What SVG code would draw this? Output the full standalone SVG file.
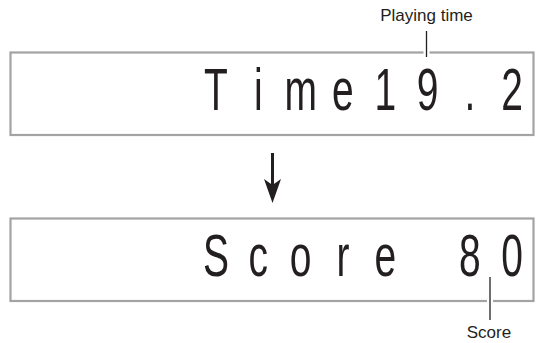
<svg xmlns="http://www.w3.org/2000/svg" width="537" height="343" viewBox="0 0 537 343">
<style>
.box{fill:#fff;stroke:#a3a3a3;stroke-width:2.2}
.lcd{font-family:"Liberation Sans",Arial,sans-serif;font-size:60px;fill:#231f20;text-anchor:middle}
.lbl{font-family:"Liberation Sans",Arial,sans-serif;font-size:17px;fill:#231f20;text-anchor:middle}
.lead{stroke:#231f20;stroke-width:1.3;fill:none}
.gap{stroke:#fff;stroke-width:6}
</style>
<rect width="537" height="343" fill="#fff"/>
<g id="display-time">
<rect class="box" x="10.5" y="52.5" width="523" height="82.5"/>
<g transform="scale(0.65,1)">
<text class="lcd" y="110" x="332.3 397.4 462.5 527.6 592.7 657.8 722.9 788">Time19.2</text>
</g>
</g>
<g id="display-score">
<rect class="box" x="10.5" y="218.5" width="523" height="82.5"/>
<g transform="scale(0.65,1)">
<text class="lcd" y="276" x="332.3 397.4 462.5 527.6 592.7 657.8 722.9 788">Score 80</text>
</g>
</g>
<g id="label-playing-time">
<text class="lbl" x="426.5" y="21">Playing time</text>
</g>
<g id="label-score">
<text class="lbl" x="489" y="338">Score</text>
</g>
<g id="connectors">
<line class="gap" x1="426.5" y1="52.5" x2="426.5" y2="52.5" stroke-linecap="square"/>
<line class="lead" x1="426.5" y1="31" x2="426.5" y2="57"/>
<line class="gap" x1="490" y1="301" x2="490" y2="301" stroke-linecap="square"/>
<line class="lead" x1="490" y1="277" x2="490" y2="320"/>
<line x1="272.5" y1="153" x2="272.5" y2="186" stroke="#231f20" stroke-width="3"/>
<polygon points="264,179 272.5,185 281,179 272.5,203" fill="#231f20"/>
</g>
</svg>
